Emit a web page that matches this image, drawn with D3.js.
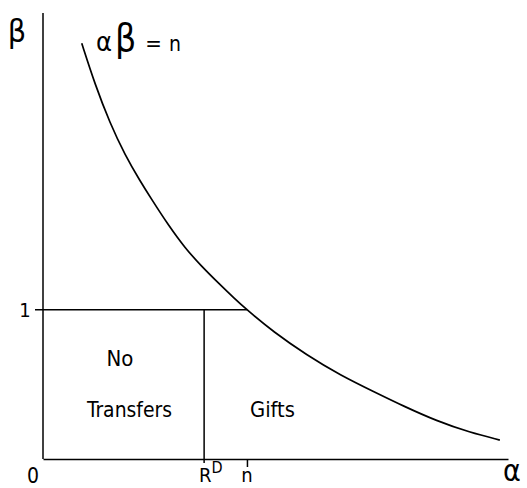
<!DOCTYPE html>
<html>
<head>
<meta charset="utf-8">
<script src="https://cdn.jsdelivr.net/npm/d3@7"></script>
<style>
  html, body { margin: 0; padding: 0; background: #fff; }
  text { font-family: "DejaVu Sans Condensed", "DejaVu Sans", sans-serif; fill: #000; }
</style>
</head>
<body>
<div id="chart"></div>
<script>
// values (alpha in units where n = 1, beta in units where 1 = 1)
const nValue = 1;
const rdValue = 0.79;
const betaOne = 1;
const alphaMax = 2.28;
const betaMax = 2.99;

// the curve alpha*beta = n
const curveAlpha = [0.190, 0.255, 0.329, 0.402, 0.476, 0.533, 0.614, 0.696, 0.778, 0.860, 0.941, 1.0, 1.129, 1.293, 1.456, 1.636, 1.767, 1.930, 2.093, 2.240];
const curveBeta  = [2.787, 2.511, 2.249, 2.038, 1.864, 1.740, 1.569, 1.415, 1.291, 1.180, 1.073, 1.0, 0.853, 0.697, 0.563, 0.442, 0.355, 0.255, 0.178, 0.127];

const regionLabels = ["No", "Transfers", "Gifts"];

const width = 527, height = 488;

const svg = d3.select("#chart")
    .append("svg")
    .attr("width", width)
    .attr("height", height);

const x = d3.scaleLinear().domain([0, alphaMax]).range([43, 508]);
const y = d3.scaleLinear().domain([0, betaMax]).range([459, 13]);

// y axis
svg.append("line")
    .attr("x1", x(0)).attr("x2", x(0))
    .attr("y1", y(betaMax)).attr("y2", y(0))
    .attr("stroke", "#000").attr("stroke-width", 1.5);

// x axis with tick at n
const xAxis = d3.axisBottom(x)
    .tickValues([nValue])
    .tickSize(8)
    .tickSizeOuter(0)
    .tickFormat("");

const gx = svg.append("g")
    .attr("transform", `translate(0,${y(0)})`)
    .call(xAxis);
gx.select(".domain").attr("stroke-width", 1.5);
gx.selectAll(".tick line").attr("stroke-width", 1.5);

// beta = 1 line, starting with a small tick left of the axis
svg.append("line")
    .attr("x1", x(0) - 8).attr("x2", x(nValue))
    .attr("y1", y(betaOne)).attr("y2", y(betaOne))
    .attr("stroke", "#000").attr("stroke-width", 1.5);

// R^D vertical line
svg.append("line")
    .attr("x1", x(rdValue)).attr("x2", x(rdValue))
    .attr("y1", y(betaOne)).attr("y2", y(0) + 4)
    .attr("stroke", "#000").attr("stroke-width", 1.5);

// the hyperbola
const pts = curveAlpha.map((a, i) => [a, curveBeta[i]]);
const line = d3.line()
    .x(d => x(d[0]))
    .y(d => y(d[1]))
    .curve(d3.curveBasis);

svg.append("path")
    .datum(pts)
    .attr("fill", "none")
    .attr("stroke", "#000")
    .attr("stroke-width", 1.7)
    .attr("d", line);

// axis labels
svg.append("text")
    .attr("x", 17).attr("y", 42)
    .attr("text-anchor", "middle")
    .style("font-size", "32px")
    .text("β");

svg.append("text")
    .attr("x", 512).attr("y", 481)
    .attr("text-anchor", "middle")
    .style("font-size", "30px")
    .text("α");

// curve label
const lab = svg.append("text")
    .attr("x", 96).attr("y", 51);
lab.append("tspan").style("font-size", "27px").text("α");
lab.append("tspan").style("font-size", "37px").attr("dx", 3).text("β");
lab.append("tspan").style("font-size", "22px").attr("dx", 9).text("=");
lab.append("tspan").style("font-size", "21px").attr("dx", 7).text("n");

// tick labels
svg.append("text")
    .attr("x", 33).attr("y", 483)
    .attr("text-anchor", "middle")
    .style("font-size", "21px")
    .text("0");

svg.append("text")
    .attr("x", 25).attr("y", 317)
    .attr("text-anchor", "middle")
    .style("font-size", "20px")
    .text("1");

const rd = svg.append("text")
    .attr("x", x(rdValue) - 5).attr("y", 482);
rd.append("tspan").style("font-size", "20px").text("R");
rd.append("tspan").style("font-size", "16px").attr("dy", -9).text("D");

svg.append("text")
    .attr("x", x(nValue)).attr("y", 482)
    .attr("text-anchor", "middle")
    .style("font-size", "20px")
    .text("n");

// region labels
svg.append("text")
    .attr("x", 120).attr("y", 366)
    .attr("text-anchor", "middle")
    .style("font-size", "22px")
    .text(regionLabels[0]);

svg.append("text")
    .attr("x", 87).attr("y", 417)
    .attr("textLength", 85)
    .attr("lengthAdjust", "spacingAndGlyphs")
    .style("font-size", "22px")
    .text(regionLabels[1]);

svg.append("text")
    .attr("x", 250).attr("y", 417)
    .attr("textLength", 45)
    .attr("lengthAdjust", "spacingAndGlyphs")
    .style("font-size", "22px")
    .text(regionLabels[2]);
</script>
</body>
</html>
